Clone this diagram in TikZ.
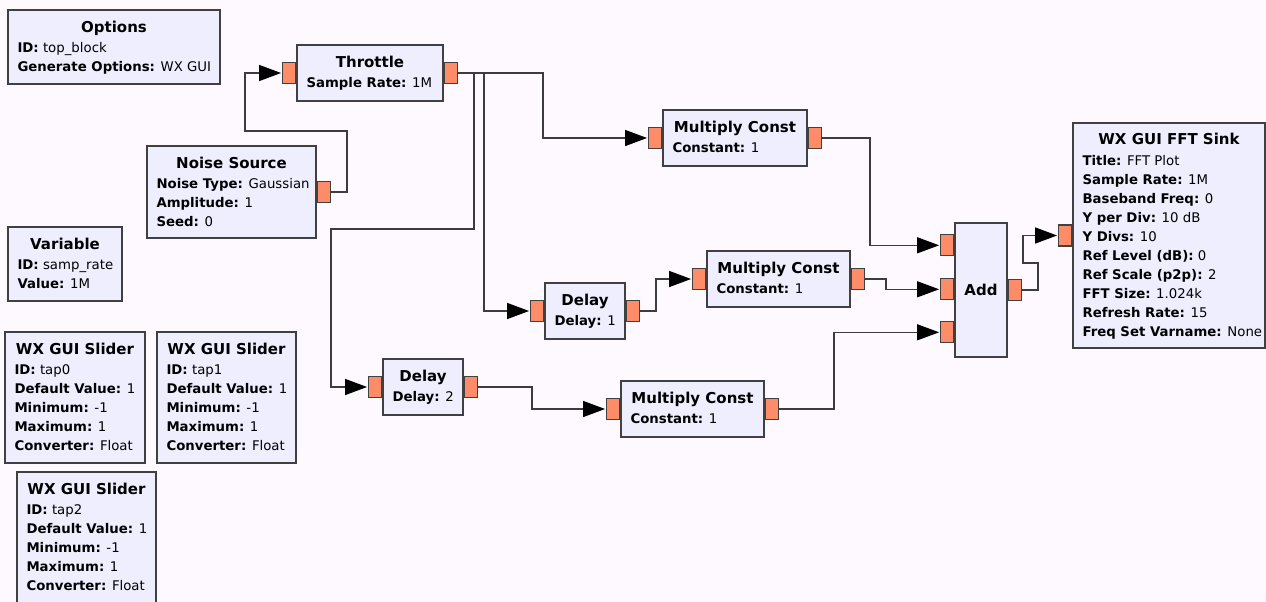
\documentclass[tikz,border=0pt]{standalone}
\usepackage{fontspec}
\setmainfont{DejaVu Sans}
\usetikzlibrary{positioning, calc}
\usetikzlibrary{arrows.meta}
\usepackage{xcolor}
\definecolor{canvas}{RGB}{254,249,254}
\definecolor{blockfill}{RGB}{238,238,254}
\definecolor{blockedge}{RGB}{64,64,64}
\definecolor{portfill}{RGB}{255,140,105}
\definecolor{wirecol}{RGB}{60,60,60}

\begin{document}
\begin{tikzpicture}[
                x=1pt, y=-1pt,
                block/.style={rectangle, draw=blockedge, line width=1.4pt, fill=blockfill, inner sep=0pt},
                blktitle/.style={inner sep=0pt, anchor=north, font=\fontsize{15}{18}\selectfont\bfseries},
                blkparams/.style={inner sep=0pt, anchor=north west, align=left, font=\fontsize{13.3}{19}\selectfont},
                port/.style={rectangle, draw=blockedge, line width=1.2pt, fill=portfill, minimum width=13pt, minimum height=21pt, inner sep=0pt},
                link/.style={draw=wirecol, line width=1.3pt, -{Triangle[length=22pt, width=16pt, color=black]}, shorten >=1pt}
            ]
                \useasboundingbox (0,0) rectangle (1266,602);
                \fill[canvas] (0,0) rectangle (1266,602);

                % Options and variables
                \node[block, minimum width=212pt, minimum height=74pt] (opt) at (114,47) {};
                \node[blktitle, below=11.5pt of opt.north] (opt-t) {Options};
                \node[blkparams, below right=33pt and 10pt of opt.north west] (opt-p) {\textbf{ID:} top\_block\\\textbf{Generate Options:} WX GUI};

                \node[block, minimum width=114pt, minimum height=74pt] (var) at (65,264) {};
                \node[blktitle, below=11.5pt of var.north] (var-t) {Variable};
                \node[blkparams, below right=33pt and 10pt of var.north west] (var-p) {\textbf{ID:} samp\_rate\\\textbf{Value:} 1M};

                \node[block, minimum width=140pt, minimum height=131pt] (sl0) at (75,397.5) {};
                \node[blktitle, below=11.5pt of sl0.north] (sl0-t) {WX GUI Slider};
                \node[blkparams, below right=33pt and 10pt of sl0.north west] (sl0-p) {\textbf{ID:} tap0\\\textbf{Default Value:} 1\\\textbf{Minimum:} -1\\\textbf{Maximum:} 1\\\textbf{Converter:} Float};

                \node[block, minimum width=139pt, minimum height=131pt] (sl1) at (226.5,397.5) {};
                \node[blktitle, below=11.5pt of sl1.north] (sl1-t) {WX GUI Slider};
                \node[blkparams, below right=33pt and 10pt of sl1.north west] (sl1-p) {\textbf{ID:} tap1\\\textbf{Default Value:} 1\\\textbf{Minimum:} -1\\\textbf{Maximum:} 1\\\textbf{Converter:} Float};

                \node[block, minimum width=139pt, minimum height=131pt] (sl2) at (86.5,537.5) {};
                \node[blktitle, below=11.5pt of sl2.north] (sl2-t) {WX GUI Slider};
                \node[blkparams, below right=33pt and 10pt of sl2.north west] (sl2-p) {\textbf{ID:} tap2\\\textbf{Default Value:} 1\\\textbf{Minimum:} -1\\\textbf{Maximum:} 1\\\textbf{Converter:} Float};

                % Source and throttle
                \node[block, minimum width=169pt, minimum height=92pt] (noise) at (231.5,192) {};
                \node[blktitle, below=11.5pt of noise.north] (noise-t) {Noise Source};
                \node[blkparams, below right=33pt and 10pt of noise.north west] (noise-p) {\textbf{Noise Type:} Gaussian\\\textbf{Amplitude:} 1\\\textbf{Seed:} 0};
                \node[port, right=0pt of noise.east] (noise-out) {};

                \node[block, minimum width=146pt, minimum height=56pt] (thr) at (370,73) {};
                \node[blktitle, below=11.5pt of thr.north] (thr-t) {Throttle};
                \node[blkparams, below right=33pt and 10pt of thr.north west] (thr-p) {\textbf{Sample Rate:} 1M};
                \node[port, left=0pt of thr.west] (thr-in) {};
                \node[port, right=0pt of thr.east] (thr-out) {};

                % Taps: delays and multipliers
                \node[block, minimum width=144pt, minimum height=56pt] (mc1) at (735,138) {};
                \node[blktitle, below=11.5pt of mc1.north] (mc1-t) {Multiply Const};
                \node[blkparams, below right=33pt and 10pt of mc1.north west] (mc1-p) {\textbf{Constant:} 1};
                \node[port, left=0pt of mc1.west] (mc1-in) {};
                \node[port, right=0pt of mc1.east] (mc1-out) {};

                \node[block, minimum width=80pt, minimum height=56pt] (dl1) at (585,311) {};
                \node[blktitle, below=11.5pt of dl1.north] (dl1-t) {Delay};
                \node[blkparams, below right=33pt and 10pt of dl1.north west] (dl1-p) {\textbf{Delay:} 1};
                \node[port, left=0pt of dl1.west] (dl1-in) {};
                \node[port, right=0pt of dl1.east] (dl1-out) {};

                \node[block, minimum width=143pt, minimum height=56pt] (mc2) at (778.5,279) {};
                \node[blktitle, below=11.5pt of mc2.north] (mc2-t) {Multiply Const};
                \node[blkparams, below right=33pt and 10pt of mc2.north west] (mc2-p) {\textbf{Constant:} 1};
                \node[port, left=0pt of mc2.west] (mc2-in) {};
                \node[port, right=0pt of mc2.east] (mc2-out) {};

                \node[block, minimum width=80pt, minimum height=56pt] (dl2) at (423,387) {};
                \node[blktitle, below=11.5pt of dl2.north] (dl2-t) {Delay};
                \node[blkparams, below right=33pt and 10pt of dl2.north west] (dl2-p) {\textbf{Delay:} 2};
                \node[port, left=0pt of dl2.west] (dl2-in) {};
                \node[port, right=0pt of dl2.east] (dl2-out) {};

                \node[block, minimum width=143pt, minimum height=56pt] (mc3) at (692.5,409) {};
                \node[blktitle, below=11.5pt of mc3.north] (mc3-t) {Multiply Const};
                \node[blkparams, below right=33pt and 10pt of mc3.north west] (mc3-p) {\textbf{Constant:} 1};
                \node[port, left=0pt of mc3.west] (mc3-in) {};
                \node[port, right=0pt of mc3.east] (mc3-out) {};

                % Sum and sink
                \node[block, minimum width=52pt, minimum height=134pt] (add) at (981,290) {};
                \node[blktitle, anchor=center] (add-t) at (add) {Add};
                \node[port, anchor=east] (add-in0) at ($(add.north west)+(0,23)$) {};
                \node[port, anchor=east] (add-in1) at ($(add.north west)+(0,67)$) {};
                \node[port, anchor=east] (add-in2) at ($(add.north west)+(0,110)$) {};
                \node[port, right=0pt of add.east] (add-out) {};

                \node[block, minimum width=192pt, minimum height=225pt] (fft) at (1169,235.5) {};
                \node[blktitle, below=10.5pt of fft.north] (fft-t) {WX GUI FFT Sink};
                \node[blkparams, below right=33pt and 10pt of fft.north west] (fft-p) {\textbf{Title:} FFT Plot\\\textbf{Sample Rate:} 1M\\\textbf{Baseband Freq:} 0\\\textbf{Y per Div:} 10 dB\\\textbf{Y Divs:} 10\\\textbf{Ref Level (dB):} 0\\\textbf{Ref Scale (p2p):} 2\\\textbf{FFT Size:} 1.024k\\\textbf{Refresh Rate:} 15\\\textbf{Freq Set Varname:} None};
                \node[port, left=0pt of fft.west] (fft-in) {};

                % Connections
                \path[link] (noise-out.east) -- ++(16,0) |- (245,131) |- (thr-in.west);
                \path[link] (thr-out.east) -- ++(85,0) |- (mc1-in.west);
                \path[link] (thr-out.east) -- ++(16,0) |- (331,229) |- (dl2-in.west);
                \path[link] (thr-out.east) -- ++(26,0) |- (dl1-in.west);
                \path[link] (dl1-out.east) -- ++(16,0) |- (mc2-in.west);
                \path[link] (dl2-out.east) -- ++(54,0) |- (mc3-in.west);
                \path[link] (mc1-out.east) -- ++(48,0) |- (add-in0.west);
                \path[link] (mc2-out.east) -- ++(21,0) |- (add-in1.west);
                \path[link] (mc3-out.east) -- ++(55,0) |- (add-in2.west);
                \path[link] (add-out.east) -- ++(16,0) -- ++(0,-27) -- ++(-15,0) |- (fft-in.west);
            \end{tikzpicture}
\end{document}
